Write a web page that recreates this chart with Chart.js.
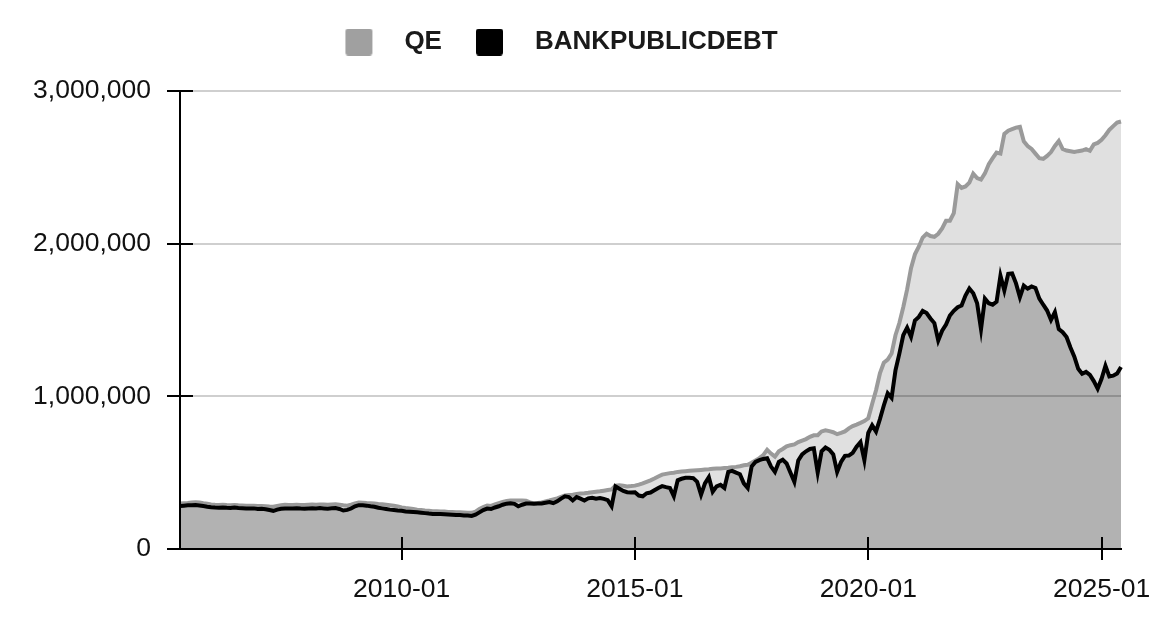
<!DOCTYPE html>
<html><head><meta charset="utf-8">
<script src="https://cdn.jsdelivr.net/npm/chart.js@4.4.1/dist/chart.umd.min.js"></script>
<style>html,body{margin:0;padding:0;background:#fff}#wrap{width:1152px;height:635px;position:relative}</style>
</head><body><div id="wrap"><canvas id="c"></canvas></div>
<script>
const dates = [
"2005-04","2005-05","2005-06","2005-07","2005-08","2005-09","2005-10","2005-11","2005-12",
"2006-01","2006-02","2006-03","2006-04","2006-05","2006-06","2006-07","2006-08","2006-09","2006-10","2006-11","2006-12",
"2007-01","2007-02","2007-03","2007-04","2007-05","2007-06","2007-07","2007-08","2007-09","2007-10","2007-11","2007-12",
"2008-01","2008-02","2008-03","2008-04","2008-05","2008-06","2008-07","2008-08","2008-09","2008-10","2008-11","2008-12",
"2009-01","2009-02","2009-03","2009-04","2009-05","2009-06","2009-07","2009-08","2009-09","2009-10","2009-11","2009-12",
"2010-01","2010-02","2010-03","2010-04","2010-05","2010-06","2010-07","2010-08","2010-09","2010-10","2010-11","2010-12",
"2011-01","2011-02","2011-03","2011-04","2011-05","2011-06","2011-07","2011-08","2011-09","2011-10","2011-11","2011-12",
"2012-01","2012-02","2012-03","2012-04","2012-05","2012-06","2012-07","2012-08","2012-09","2012-10","2012-11","2012-12",
"2013-01","2013-02","2013-03","2013-04","2013-05","2013-06","2013-07","2013-08","2013-09","2013-10","2013-11","2013-12",
"2014-01","2014-02","2014-03","2014-04","2014-05","2014-06","2014-07","2014-08","2014-09","2014-10","2014-11","2014-12",
"2015-01","2015-02","2015-03","2015-04","2015-05","2015-06","2015-07","2015-08","2015-09","2015-10","2015-11","2015-12",
"2016-01","2016-02","2016-03","2016-04","2016-05","2016-06","2016-07","2016-08","2016-09","2016-10","2016-11","2016-12",
"2017-01","2017-02","2017-03","2017-04","2017-05","2017-06","2017-07","2017-08","2017-09","2017-10","2017-11","2017-12",
"2018-01","2018-02","2018-03","2018-04","2018-05","2018-06","2018-07","2018-08","2018-09","2018-10","2018-11","2018-12",
"2019-01","2019-02","2019-03","2019-04","2019-05","2019-06","2019-07","2019-08","2019-09","2019-10","2019-11","2019-12",
"2020-01","2020-02","2020-03","2020-04","2020-05","2020-06","2020-07","2020-08","2020-09","2020-10","2020-11","2020-12",
"2021-01","2021-02","2021-03","2021-04","2021-05","2021-06","2021-07","2021-08","2021-09","2021-10","2021-11","2021-12",
"2022-01","2022-02","2022-03","2022-04","2022-05","2022-06","2022-07","2022-08","2022-09","2022-10","2022-11","2022-12",
"2023-01","2023-02","2023-03","2023-04","2023-05","2023-06","2023-07","2023-08","2023-09","2023-10","2023-11","2023-12",
"2024-01","2024-02","2024-03","2024-04","2024-05","2024-06","2024-07","2024-08","2024-09","2024-10","2024-11","2024-12",
"2025-01","2025-02","2025-03","2025-04","2025-05","2025-06"
];

const qe = [
298000,300000,302000,305000,307000,305000,300000,296000,292000,
290000,289000,290000,288000,287000,288000,286000,285000,284000,283000,284000,282000,
281000,280000,278000,277000,282000,287000,290000,289000,288000,290000,289000,288000,
290000,291000,290000,292000,291000,290000,292000,293000,290000,286000,284000,290000,
298000,304000,303000,301000,300000,298000,295000,293000,290000,287000,283000,279000,
272000,268000,265000,262000,258000,255000,252000,250000,248000,247000,246000,245000,
243000,242000,241000,240000,239000,238000,237000,245000,262000,275000,285000,282000,
292000,300000,308000,314000,317000,318000,318000,317000,316000,305000,300000,302000,
305000,312000,318000,325000,332000,342000,350000,353000,356000,360000,363000,365000,
368000,372000,375000,378000,382000,386000,390000,415000,418000,414000,410000,412000,
415000,422000,430000,440000,450000,462000,475000,487000,492000,497000,500000,505000,
508000,510000,512000,514000,516000,518000,520000,522000,525000,527000,528000,530000,
532000,535000,538000,542000,548000,552000,565000,580000,595000,615000,650000,625000,
605000,640000,655000,672000,680000,685000,700000,710000,720000,735000,745000,745000,
770000,778000,772000,765000,752000,760000,770000,790000,805000,815000,826000,838000,
856000,950000,1040000,1150000,1220000,1240000,1280000,1400000,1480000,1584000,1700000,1840000,
1930000,1980000,2040000,2065000,2050000,2045000,2065000,2100000,2150000,2150000,2200000,2390000,
2365000,2375000,2400000,2458000,2430000,2420000,2460000,2520000,2560000,2597000,2590000,2719000,
2740000,2750000,2760000,2765000,2670000,2640000,2620000,2590000,2560000,2556000,2575000,2600000,
2640000,2673000,2620000,2610000,2605000,2600000,2606000,2610000,2619000,2608000,2650000,2660000,
2680000,2710000,2745000,2770000,2793000,2800000
];

const bankPublicDebt = [
282000,284000,286000,287000,288000,285000,281000,277000,274000,
272000,271000,272000,270000,269000,271000,268000,267000,266000,265000,266000,262000,
263000,260000,255000,250000,258000,264000,266000,265000,266000,267000,265000,264000,
266000,267000,265000,268000,266000,264000,267000,268000,262000,252000,256000,265000,
280000,287000,286000,284000,280000,277000,270000,266000,262000,258000,255000,252000,
250000,246000,244000,242000,240000,238000,235000,232000,230000,229000,230000,228000,
226000,224000,222000,222000,220000,219000,217000,225000,240000,255000,265000,262000,
272000,280000,290000,297000,300000,296000,280000,290000,298000,298000,296000,298000,
298000,303000,308000,300000,312000,330000,345000,340000,318000,340000,330000,318000,
332000,336000,330000,334000,328000,320000,280000,410000,395000,380000,372000,370000,
372000,350000,345000,365000,370000,385000,400000,412000,405000,400000,346000,450000,
460000,466000,466000,464000,440000,355000,430000,470000,375000,410000,420000,400000,
505000,512000,500000,490000,430000,400000,540000,570000,582000,590000,595000,540000,
505000,570000,585000,560000,500000,440000,580000,620000,640000,655000,660000,500000,
640000,665000,650000,620000,505000,570000,610000,612000,630000,670000,700000,582000,
760000,810000,770000,850000,940000,1020000,990000,1170000,1280000,1400000,1450000,1390000,
1497000,1520000,1560000,1545000,1510000,1480000,1366000,1430000,1470000,1529000,1560000,1584000,
1595000,1660000,1706000,1675000,1610000,1440000,1640000,1610000,1600000,1620000,1790000,1693000,
1802000,1805000,1740000,1649000,1725000,1705000,1720000,1710000,1640000,1600000,1562000,1500000,
1551000,1440000,1420000,1388000,1320000,1260000,1180000,1148000,1160000,1140000,1100000,1050000,
1115000,1200000,1130000,1135000,1150000,1192000
];

const seriesNames = ['QE', 'BANKPUBLICDEBT'];
const xTickLabels = ['2010-01', '2015-01', '2020-01', '2025-01'];
const yMin = 0, yMax = 3000000, yStep = 1000000;

const FONT = "'Liberation Sans', Arial, Helvetica, sans-serif";
const GRID = '#cfcfcf';
const QE_LINE = '#9a9a9a';
const QE_FILL = 'rgba(152,152,152,0.3)';
const BANK_LINE = '#000000';
const BANK_FILL = 'rgba(0,0,0,0.3)';
const LEGEND_BOX = ['#a0a0a0', '#000000'];

function legendIcon(color) {
  const c = document.createElement('canvas');
  c.width = 48; c.height = 27;
  const g = c.getContext('2d');
  g.fillStyle = color;
  const x = 2, y = 0, w = 27, h = 27, r = 3;
  g.beginPath();
  g.moveTo(x + r, y);
  g.lineTo(x + w - r, y); g.quadraticCurveTo(x + w, y, x + w, y + r);
  g.lineTo(x + w, y + h - r); g.quadraticCurveTo(x + w, y + h, x + w - r, y + h);
  g.lineTo(x + r, y + h); g.quadraticCurveTo(x, y + h, x, y + h - r);
  g.lineTo(x, y + r); g.quadraticCurveTo(x, y, x + r, y);
  g.closePath(); g.fill();
  return c;
}
const icons = LEGEND_BOX.map(legendIcon);

const isMajor = i => xTickLabels.includes(dates[i]);

const layoutPlugin = {
  id: 'layoutTweaks',
  beforeLayout(chart) {
    const lg = chart.legend;
    if (lg && !lg._patched) {
      const orig = lg.fit;
      lg.fit = function () { orig.call(this); if (this.isHorizontal()) this.height = 91; };
      lg._patched = true;
    }
  },
  afterLayout(chart) {
    const lg = chart.legend;
    if (lg) { lg.top -= 3; lg.bottom -= 3; }
  },
  afterDatasetsDraw(chart) {
    const {ctx, chartArea: a, scales: {x, y}} = chart;
    ctx.save();
    ctx.strokeStyle = '#000';
    ctx.lineWidth = 2;
    ctx.beginPath();
    ctx.moveTo(a.left, a.top); ctx.lineTo(a.left, a.bottom);
    ctx.moveTo(a.left - 13, a.bottom); ctx.lineTo(a.right, a.bottom);
    y.ticks.forEach(t => {
      const py = Math.round(y.getPixelForValue(t.value));
      ctx.moveTo(a.left - 13, py); ctx.lineTo(a.left + 13, py);
    });
    dates.forEach((d, i) => {
      if (!isMajor(i)) return;
      const px = Math.round(x.getPixelForValue(i));
      ctx.moveTo(px, a.bottom - 12); ctx.lineTo(px, a.bottom + 11);
    });
    ctx.stroke();
    ctx.restore();
  }
};

Chart.defaults.font.family = FONT;

new Chart(document.getElementById('c'), {
  type: 'line',
  data: {
    labels: dates,
    datasets: [
      {
        label: seriesNames[0], data: qe, order: 1,
        borderColor: QE_LINE, backgroundColor: QE_FILL, borderWidth: 4,
        fill: '+1', pointRadius: 0, tension: 0
      },
      {
        label: seriesNames[1], data: bankPublicDebt, order: 0,
        borderColor: BANK_LINE, backgroundColor: BANK_FILL, borderWidth: 4,
        fill: 'origin', pointRadius: 0, tension: 0
      }
    ]
  },
  options: {
    responsive: true,
    maintainAspectRatio: false,
    animation: false,
    events: [],
    layout: { padding: { left: 0, right: 31, top: 0, bottom: 0 } },
    plugins: {
      tooltip: { enabled: false },
      legend: {
        position: 'top',
        labels: {
          usePointStyle: true,
          pointStyleWidth: 48,
          boxHeight: 26,
          padding: 32,
          color: '#1a1a1a',
          font: { family: FONT, size: 26, weight: 'bold' },
          sort: (a, b) => a.datasetIndex - b.datasetIndex,
          generateLabels(chart) {
            const items = Chart.defaults.plugins.legend.labels.generateLabels(chart);
            items.forEach(it => { it.pointStyle = icons[it.datasetIndex]; });
            return items;
          }
        }
      }
    },
    scales: {
      x: {
        type: 'category',
        offset: false,
        afterFit(s) { s.height = 86; s.paddingRight = 0; s.paddingLeft = 0; },
        grid: {
          color: c => isMajor(c.index) ? GRID : 'rgba(0,0,0,0)',
          tickColor: c => isMajor(c.index) ? '#000' : 'rgba(0,0,0,0)',
          lineWidth: 2,
          tickLength: 11,
          drawTicks: true
        },
        border: { color: '#000', width: 2 },
        ticks: {
          autoSkip: false,
          maxRotation: 0,
          minRotation: 0,
          padding: 14,
          color: '#111',
          font: { family: FONT, size: 26.5 },
          callback: (v, i) => isMajor(i) ? dates[i] : null
        }
      },
      y: {
        min: yMin, max: yMax,
        afterFit(s) { s.width = 180; },
        grid: { color: GRID, lineWidth: 2, tickLength: 13, tickColor: '#000' },
        border: { color: '#000', width: 2 },
        ticks: {
          stepSize: yStep,
          padding: 16,
          color: '#111',
          font: { family: FONT, size: 26.5 },
          callback: v => Number(v).toLocaleString('en-US')
        }
      }
    }
  },
  plugins: [layoutPlugin]
});
</script>
</body></html>
